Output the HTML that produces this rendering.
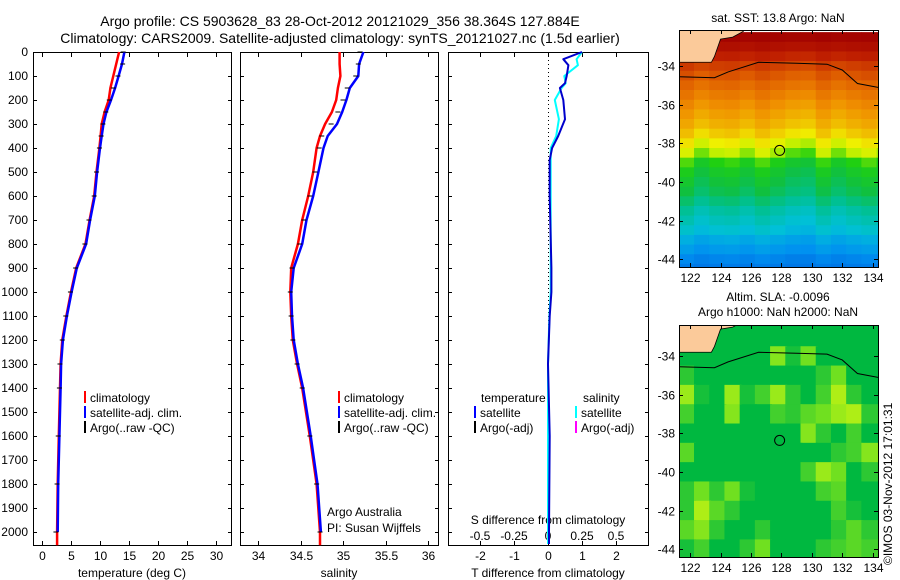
<!DOCTYPE html>
<html><head><meta charset="utf-8"><style>
html,body{margin:0;padding:0;background:#fff;}
svg{display:block;font-family:"Liberation Sans",sans-serif;}
</style></head><body>
<svg id="fig" width="900" height="580" viewBox="0 0 900 580">
<text x="340" y="26" font-size="14" text-anchor="middle">Argo profile: CS 5903628_83 28-Oct-2012 20121029_356 38.364S 127.884E</text>
<text x="340" y="43" font-size="14" text-anchor="middle">Climatology: CARS2009. Satellite-adjusted climatology: synTS_20121027.nc (1.5d earlier)</text>
<text x="778" y="22" font-size="12" text-anchor="middle">sat. SST: 13.8 Argo: NaN</text>
<text x="778" y="301" font-size="12" text-anchor="middle">Altim. SLA: -0.0096</text>
<text x="778" y="316" font-size="12" text-anchor="middle">Argo h1000: NaN h2000: NaN</text>
<text x="0" y="0" font-size="12" transform="translate(892,565) rotate(-90)">©IMOS 03-Nov-2012 17:01:31</text>
<g id="g"></g>
</svg>
<script>
// ---- profile data (depth in dbar) ----
const depths = [0,50,100,150,200,250,300,350,400,500,600,700,800,900,1000,1100,1200,1300,1400,1600,1800,2000];
const tempClim = [13.3,12.8,12.3,11.8,11.5,10.8,10.3,10.1,9.9,9.4,9.0,8.2,7.5,5.9,5.0,4.2,3.5,3.2,3.1,2.9,2.7,2.6];
const tempSat  = [14.2,13.8,13.2,12.6,11.9,11.1,10.6,10.3,10.0,9.5,9.1,8.3,7.6,6.0,5.1,4.3,3.6,3.3,3.2,3.0,2.8,2.7];
const tempArgo = [14.0,13.9,13.1,12.3,11.6,11.0,10.5,10.2,9.9,9.4,9.0,8.1,7.4,5.8,4.9,4.1,3.5,3.1,3.0,2.8,2.6,2.4];
const salClim = [34.96,34.96,34.97,34.94,34.92,34.87,34.79,34.73,34.69,34.65,34.59,34.52,34.47,34.39,34.38,34.39,34.41,34.46,34.52,34.61,34.69,34.73];
const salSat  = [35.24,35.19,35.18,35.08,35.04,34.99,34.93,34.82,34.77,34.71,34.65,34.57,34.52,34.42,34.39,34.40,34.42,34.47,34.53,34.62,34.70,34.74];
const salArgo = [35.20,35.18,35.15,35.05,35.0,34.94,34.86,34.75,34.72,34.67,34.61,34.54,34.49,34.40,34.38,34.39,34.41,34.46,34.52,34.61,34.69,34.73];
const diffDepths = [0,30,55,100,130,150,200,280,350,400,450,600,900,1000,1100,1300,1600,2000,2050];
const tDiffSat = [1.0,0.45,0.6,0.55,0.5,0.35,0.45,0.5,0.3,0.12,0.05,0.05,0.1,0.1,0.05,0.0,0.05,0.03,0.03];
const sDiffSat = [0.25,0.21,0.22,0.12,0.13,0.10,0.05,0.08,0.06,0.02,0.02,0.02,0.02,0.02,0.01,0.0,0.0,0.0,0.0];
const depthTicks = [0,100,200,300,400,500,600,700,800,900,1000,1100,1200,1300,1400,1500,1600,1700,1800,1900,2000];
const tempTicks = [0,5,10,15,20,25,30];
const salTicks = [34,34.5,35,35.5,36];
const tdTicks = [-2,-1,0,1,2];
const sdTicks = [-0.5,-0.25,0,0.25,0.5];
const sdTickLabels = ["-0.5","-0.25","0","0.25","0.5"];
// ---- map data ----
const sstLats = [-32.5,-33,-33.5,-34,-34.5,-35,-35.5,-36,-36.5,-37,-37.5,-38,-38.5,-39,-39.5,-40,-40.5,-41,-41.5,-42,-42.5,-43,-43.5,-44,-44.5];
const sstRow = [18.3,18.0,17.6,17.2,16.9,16.6,16.3,16.0,15.7,15.4,15.0,14.5,14.1,13.5,13.2,13.0,12.8,12.5,12.2,12.0,11.8,11.5,11.3,11.1,11.0];
const sstColOffset = [0.3,-0.2,0.1,0.2,-0.1,0.3,0,-0.3,-0.4,0.2,-0.2,0.1,0.3,0];
const slaLats = [-33,-34,-35,-36,-37,-38,-39,-40,-41,-42,-43,-44];
const slaGrid = [
[0,0,0,0,0,0,0,0,0,0,0,0,0],
[0,0,0,0,0,0,.6,.1,.5,0,0,0,0],
[.2,0,0,0,0,0,0,0,0,.2,.5,0,0],
[.7,.1,0,.7,.1,.3,.7,.2,0,.3,.8,.2,0],
[.3,0,0,.6,0,0,.3,.2,.4,.5,.7,.8,.2],
[0,0,0,0,0,0,0,0,.6,.2,0,.3,0],
[.4,0,0,0,0,0,0,0,0,0,.2,.3,.6],
[0,0,0,0,0,0,0,0,.3,.7,.5,0,.2],
[.2,.5,.2,.5,.1,0,0,0,0,.3,.4,0,0],
[.2,.8,.4,.2,0,0,0,0,0,0,.3,.1,0],
[.4,.6,.2,0,0,.2,0,0,0,0,.2,.4,.2],
[.1,.3,0,0,.2,.5,0,0,0,.2,.3,.4,.3]];
const coastLon = [121.27,123.4,123.6,124.0,124.8,125.5,125.6];
const coastLat = [-33.8,-33.8,-33.5,-32.6,-32.5,-32.2,-32.0];
const contourLon = [121.27,123.6,124.5,126.5,129,131,132,133,134.35];
const contourLat = [-34.55,-34.6,-34.3,-33.8,-33.85,-33.9,-34.2,-34.9,-35.1];
const lonTicks = [122,124,126,128,130,132,134];
const latTicks = [-34,-36,-38,-40,-42,-44];
const argoLon = 127.884, argoLat = -38.364;

const NS='http://www.w3.org/2000/svg';
const G=document.getElementById('g');
function mk(tag,attrs,parent){const e=document.createElementNS(NS,tag);for(const k in attrs)e.setAttribute(k,attrs[k]);(parent||G).appendChild(e);return e;}
const yD = d => 52 + d*0.24;
const xT = t => 42 + t*5.8;
const xS = s => 258 + (s-34)*85;
const xTD = v => 548 + v*34;
const xSD = v => 548 + v*136;
const PT=52, PB=545;
const panels=[{x0:33,x1:231,n:'temperature-panel'},{x0:240,x1:438,n:'salinity-panel'},{x0:448,x1:648,n:'difference-panel'}];

function txt(x,y,s,size,anchor,name,fill){const t=mk('text',{x:x,y:y,'font-size':size,'text-anchor':anchor||'start',fill:fill||'#000'});t.textContent=s;


return t;}

depthTicks.forEach(d=>{txt(28,yD(d)+4,String(d),12,'end','depth-tick-label');});

panels.forEach(p=>{
  const r=mk('rect',{x:p.x0+0.5,y:PT+0.5,width:p.x1-p.x0,height:PB-PT,fill:'none',stroke:'#000'});
  
  
  depthTicks.forEach(d=>{
    const l=mk('line',{x1:p.x0,x2:p.x0+4,y1:yD(d)+0.5,y2:yD(d)+0.5,stroke:'#000'});
    
    
    const l2=mk('line',{x1:p.x1-3,x2:p.x1+1,y1:yD(d)+0.5,y2:yD(d)+0.5,stroke:'#000'});
    
    
  });
});
function xticks(vals,labels,fx,name,ly){
  vals.forEach((v,i)=>{const x=Math.round(fx(v))+0.5;
    const a=mk('line',{x1:x,x2:x,y1:PT,y2:PT+5,stroke:'#000'});
    
    
    const b=mk('line',{x1:x,x2:x,y1:PB-4,y2:PB+1,stroke:'#000'});
    
    
    txt(x,ly,labels[i],12,'middle',name+'-tick-label');
  });
}
xticks(tempTicks,tempTicks.map(String),xT,'temperature',560);
xticks(salTicks,salTicks.map(String),xS,'salinity',560);
xticks(tdTicks,tdTicks.map(String),xTD,'t-difference',560);
sdTicks.forEach((v,i)=>txt(xSD(v),540,sdTickLabels[i],12,'middle','s-difference-tick-label'));
txt(132,577,'temperature (deg C)',12,'middle','temperature-axis-title');
txt(339,577,'salinity',12,'middle','salinity-axis-title');
txt(548,577,'T difference from climatology',12,'middle','t-difference-axis-title');
txt(548,524,'S difference from climatology',12,'middle','s-difference-axis-title');
txt(327,516,'Argo Australia',12,'start','institution-label');
txt(327,532,'PI: Susan Wijffels',12,'start','pi-label');

function line(ds,vals,fx,color,w,name){
  const pts=ds.map((d,i)=>fx(vals[i]).toFixed(1)+','+yD(d).toFixed(1)).join(' ');
  const p=mk('polyline',{points:pts,fill:'none',stroke:color,'stroke-width':w,'stroke-linejoin':'round'});
  
  
}
function argo(ds,vals,fx,name){
  ds.forEach((d,i)=>{const x=fx(vals[i]);
    const m=mk('line',{x1:x-2.5,x2:x+2.5,y1:yD(d),y2:yD(d),stroke:'#000','stroke-width':1});
    
    
  });
}
line(depths.concat([2055]),tempClim.concat([2.6]),xT,'#f00',2.5,'temperature-climatology-line');
line(depths,tempSat,xT,'#00f',2.5,'temperature-satellite-line');
argo(depths,tempArgo,xT,'temperature-argo-mark');
line(depths.concat([2055]),salClim.concat([34.73]),xS,'#f00',2.5,'salinity-climatology-line');
line(depths,salSat,xS,'#00f',2.5,'salinity-satellite-line');
argo(depths,salArgo,xS,'salinity-argo-mark');
const dz=mk('line',{x1:548.5,x2:548.5,y1:PT,y2:PB,stroke:'#000','stroke-dasharray':'1,3'});


line(diffDepths,sDiffSat,xSD,'#0ff',2,'salinity-difference-line');
line(diffDepths,tDiffSat,xTD,'#00c',2,'temperature-difference-line');

function leg(x,y,color,label,name){
  const m=mk('rect',{x:x,y:y-11,width:2,height:12,fill:color});
  
  
  txt(x+6,y,label,12,'start',name);
}
[[84,'temperature'],[338,'salinity']].forEach(([x,n])=>{
  leg(x,402,'#f00','climatology',n+'-legend-climatology');
  leg(x,417,'#00f','satellite-adj. clim.',n+'-legend-satellite');
  leg(x,432,'#000','Argo(..raw -QC)',n+'-legend-argo');
});
txt(481,402,'temperature',12,'start','diff-legend-temperature-header');
txt(583,402,'salinity',12,'start','diff-legend-salinity-header');
leg(474,417,'#00f','satellite','diff-legend-t-satellite');
leg(474,432,'#000','Argo(-adj)','diff-legend-t-argo');
leg(575,417,'#0ff','satellite','diff-legend-s-satellite');
leg(575,432,'#f0f','Argo(-adj)','diff-legend-s-argo');

// ---- maps ----
function rgb(c){return 'rgb('+c.join(',')+')';}
function lerpCol(stops,v){
  if(v<=stops[0][0])return rgb(stops[0][1]);
  for(let i=1;i<stops.length;i++){if(v<=stops[i][0]){const a=stops[i-1],b=stops[i];const f=(v-a[0])/(b[0]-a[0]);
    return rgb([0,1,2].map(k=>Math.round(a[1][k]+(b[1][k]-a[1][k])*f)));}}
  return rgb(stops[stops.length-1][1]);
}
const sstStops=[[10.5,[0,64,208]],[11.2,[0,144,240]],[11.8,[0,192,216]],[12.4,[0,192,144]],[13.0,[16,192,64]],[13.6,[32,208,16]],[14.2,[192,240,0]],[14.6,[240,240,0]],[15.2,[240,192,0]],[16,[240,144,0]],[16.8,[224,96,0]],[17.6,[192,32,0]],[18.4,[160,0,0]]];
const slaStops=[[0,[0,184,64]],[0.5,[112,224,32]],[1,[216,248,16]]];
function makeMap(top,bot,latTop,name){
  const L=679,R=878,lon0=121.27,lon1=134.35,latBot=-44.4;
  const mx=lon=>L+(lon-lon0)/(lon1-lon0)*(R-L);
  const my=lat=>top+(latTop-lat)/(latTop-latBot)*(bot-top);
  const g=mk('g',{});
  
  
  const cp=mk('clipPath',{id:name+'-clip'},g);mk('rect',{x:L,y:top,width:R-L,height:bot-top},cp);
  const cg=mk('g',{'clip-path':'url(#'+name+'-clip)'},g);
  return {g,cg,mx,my,L,R,top,bot};
}
function mapFrame(m,name){
  const r=mk('rect',{x:m.L+0.5,y:m.top+0.5,width:m.R-m.L,height:m.bot-m.top,fill:'none',stroke:'#000'},m.g);
  
  
  lonTicks.forEach(v=>{const x=Math.round(m.mx(v))+0.5;
    mk('line',{x1:x,x2:x,y1:m.bot-4,y2:m.bot,stroke:'#000'},m.g);mk('line',{x1:x,x2:x,y1:m.top,y2:m.top+4,stroke:'#000'},m.g);
    txt(x,m.bot+15,String(v),12,'middle',name+'-lon-label');});
  latTicks.forEach(v=>{const y=Math.round(m.my(v))+0.5;
    mk('line',{x1:m.L,x2:m.L+4,y1:y,y2:y,stroke:'#000'},m.g);mk('line',{x1:m.R-4,x2:m.R,y1:y,y2:y,stroke:'#000'},m.g);
    txt(m.L-4,y+4,String(v),12,'end',name+'-lat-label');});
  const c=mk('circle',{cx:m.mx(argoLon),cy:m.my(argoLat),r:5,fill:'none',stroke:'#000'},m.g);
  
  
}
function landAndContour(m,name){
  const pts=coastLon.map((lo,i)=>m.mx(lo)+','+m.my(coastLat[i]));
  pts.push(m.mx(121.0)+','+m.my(-31.5));
  const land=mk('polygon',{points:pts.join(' '),fill:'#fbca9a',stroke:'#000','stroke-width':0.8},m.cg);
  
  
  const c=mk('polyline',{points:contourLon.map((lo,i)=>m.mx(lo)+','+m.my(contourLat[i])).join(' '),fill:'none',stroke:'#000','stroke-width':1},m.cg);
  
  
}
const m1=makeMap(30,267,-32.13,'sst-map');
sstLats.forEach((lat,ri)=>{
  sstColOffset.forEach((off,ci)=>{
    const lo=121.27+ci;const v=sstRow[ri]+off*(1-Math.abs(ri-12)/13);
    const cell=mk('rect',{x:m1.mx(lo)-0.2,y:m1.my(lat+0.25)-0.2,width:m1.mx(lo+1)-m1.mx(lo)+0.4,height:m1.my(lat-0.25)-m1.my(lat+0.25)+0.4,fill:lerpCol(sstStops,v)},m1.cg);
    
    
  });
});
landAndContour(m1,'sst-map');
mapFrame(m1,'sst-map');
const m2=makeMap(325,557,-32.39,'sla-map');
slaLats.forEach((lat,ri)=>{
  slaGrid[ri].forEach((v,ci)=>{
    const lo=121.27+ci;
    const top=ri===0?-32.0:lat+0.5;
    const cell=mk('rect',{x:m2.mx(lo)-0.2,y:m2.my(top)-0.2,width:m2.mx(lo+1.1)-m2.mx(lo)+0.4,height:m2.my(lat-0.5)-m2.my(top)+0.4,fill:lerpCol(slaStops,v)},m2.cg);
    
    
  });
});
landAndContour(m2,'sla-map');
mapFrame(m2,'sla-map');
</script>
</body></html>
